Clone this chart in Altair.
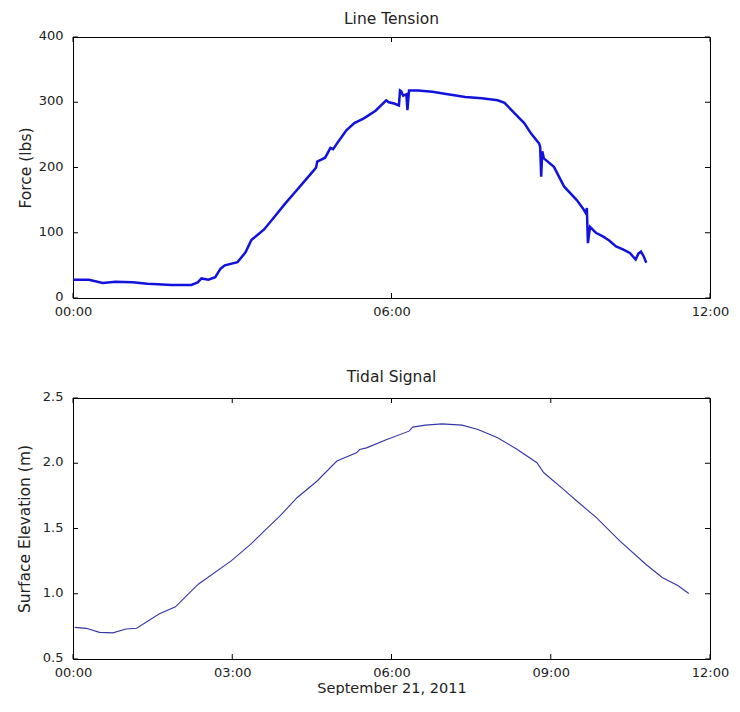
import altair as alt
import pandas as pd

# Line tension (hours after 00:00, force in lbs)
tension_hours = [0.0, 0.3, 0.56, 0.8, 1.12, 1.4, 1.6, 1.85, 2.1, 2.23, 2.35, 2.42, 2.55, 2.68, 2.78, 2.86, 3.1, 3.25, 3.36, 3.48, 3.6, 3.85, 4.0, 4.17, 4.35, 4.54, 4.58, 4.6, 4.75, 4.85, 4.9, 5.0, 5.15, 5.3, 5.47, 5.53, 5.7, 5.9, 5.95, 6.05, 6.14, 6.16, 6.18, 6.22, 6.28, 6.3, 6.33, 6.5, 6.77, 7.0, 7.39, 7.7, 8.0, 8.13, 8.32, 8.5, 8.63, 8.78, 8.8, 8.82, 8.84, 8.87, 9.06, 9.25, 9.49, 9.6, 9.66, 9.68, 9.7, 9.74, 9.85, 9.99, 10.1, 10.23, 10.35, 10.49, 10.6, 10.65, 10.7, 10.75, 10.8]
tension_force = [28, 28, 23, 25, 24, 22, 21, 20, 20, 20, 24, 30, 28, 32, 45, 50, 55, 70, 89, 97, 105, 130, 145, 161, 178, 196, 200, 209, 215, 230, 228, 240, 257, 268, 275, 278, 287, 303, 300, 298, 295, 318, 317, 310, 312, 288, 318, 318, 316, 313, 308, 306, 303, 299, 283, 268, 252, 237, 232, 186, 225, 214, 201, 171, 150, 138, 130, 138, 84, 109, 100, 94, 88, 79, 75, 69, 59, 68, 71, 64, 54]

# Tidal signal (hours after 00:00, surface elevation in m)
tide_hours = [0.03, 0.25, 0.5, 0.75, 1.0, 1.2, 1.62, 1.93, 2.36, 2.98, 3.35, 3.6, 3.9, 4.22, 4.6, 4.97, 5.34, 5.4, 5.53, 5.9, 6.33, 6.4, 6.64, 6.95, 7.33, 7.63, 8.0, 8.37, 8.74, 8.87, 9.24, 9.49, 9.86, 10.3, 10.79, 11.1, 11.4, 11.6]
tide_elev = [0.742, 0.735, 0.704, 0.70, 0.73, 0.735, 0.844, 0.90, 1.073, 1.252, 1.38, 1.48, 1.596, 1.736, 1.864, 2.017, 2.08, 2.105, 2.118, 2.18, 2.246, 2.277, 2.292, 2.302, 2.292, 2.259, 2.195, 2.105, 2.004, 1.927, 1.80, 1.711, 1.583, 1.405, 1.226, 1.125, 1.061, 1.002]

top_xticks = [0, 6, 12]
top_yticks = [0, 100, 200, 300, 400]
bot_xticks = [0, 3, 6, 9, 12]
bot_yticks = [0.5, 1, 1.5, 2, 2.5]

tension = pd.DataFrame({"h": tension_hours, "f": tension_force})
tide = pd.DataFrame({"h": tide_hours, "e": tide_elev})

FONT = "DejaVu Sans"
TXT = "#222222"
W, H = 637, 261
TL = 5  # inward tick length
label_expr = "(datum.value < 10 ? '0' : '') + datum.value + ':00'"


def panel(df, ycol, ydom, xticks, yticks, ytitle, xtitle, title, color, width, tpad, toff):
    xs = alt.Scale(domain=[0, 12], nice=False, zero=False)
    ys = alt.Scale(domain=ydom, nice=False, zero=False)
    common = dict(ticks=False, grid=False, domain=False, labelFont=FONT, titleFont=FONT,
                  labelFontSize=13, labelColor=TXT,
                  titleColor=TXT, titleFontWeight="normal", labelFlush=False)
    xaxis = alt.Axis(values=xticks, labelExpr=label_expr, labelPadding=7,
                     title=xtitle if xtitle else "", titlePadding=2,
                     titleFontSize=14.5, **common)
    yaxis = alt.Axis(values=yticks, labelPadding=10, title=ytitle, labelOffset=-1.5,
                     titlePadding=tpad, titleFontSize=15.5, **common)
    line = alt.Chart(df).mark_line(color=color, strokeWidth=width).encode(
        x=alt.X("h:Q", scale=xs, axis=xaxis),
        y=alt.Y(f"{ycol}:Q", scale=ys, axis=yaxis),
    )
    xt = pd.DataFrame({"t": xticks})
    yt = pd.DataFrame({"t": yticks})
    xb = alt.Chart(xt).mark_rule(color="black").encode(
        x=alt.X("t:Q", scale=xs), y=alt.value(H), y2=alt.value(H - TL))
    xtp = alt.Chart(xt).mark_rule(color="black").encode(
        x=alt.X("t:Q", scale=xs), y=alt.value(0), y2=alt.value(TL))
    yl = alt.Chart(yt).mark_rule(color="black").encode(
        y=alt.Y("t:Q", scale=ys), x=alt.value(0), x2=alt.value(TL))
    yr = alt.Chart(yt).mark_rule(color="black").encode(
        y=alt.Y("t:Q", scale=ys), x=alt.value(W), x2=alt.value(W - TL))
    return alt.layer(line, xb, xtp, yl, yr).properties(
        width=W, height=H,
        view=alt.ViewBackground(stroke="black", strokeWidth=1, fill="white"),
        title=alt.TitleParams(title, fontSize=15.5, fontWeight="normal", font=FONT,
                              color=TXT, offset=toff),
    )


top = panel(tension, "f", [0, 400], top_xticks, top_yticks, "Force (lbs)", None,
            "Line Tension", "#1212dd", 2.5, 5, 2.5)
bot = panel(tide, "e", [0.5, 2.5], bot_xticks, bot_yticks, "Surface Elevation (m)",
            "September 21, 2011", "Tidal Signal", "#3535a8", 1.1, 10, 5)

chart = alt.vconcat(top, bot, spacing=50, background="white").properties(
    padding={"left": 8, "top": 3, "right": 0, "bottom": 0}
).configure_view(
    stroke="black", strokeWidth=1
)

chart.save("out.html", embed_options={"renderer": "svg", "actions": False})
